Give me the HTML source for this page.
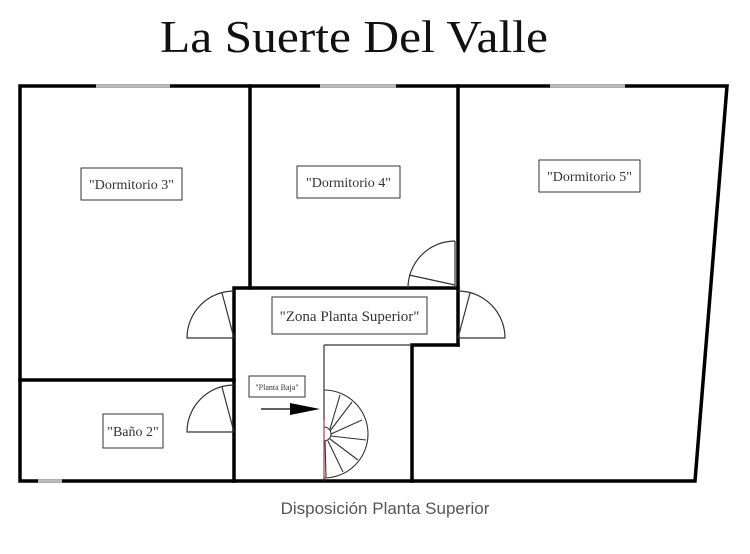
<!DOCTYPE html>
<html><head><meta charset="utf-8"><style>
html,body{margin:0;padding:0;background:#fff;width:750px;height:554px;overflow:hidden}
</style></head><body>
<svg width="750" height="554" xmlns="http://www.w3.org/2000/svg" font-family="Liberation Serif, serif">
<rect width="750" height="554" fill="#fff"/>
<text x="160" y="52" font-size="46" textLength="388" lengthAdjust="spacingAndGlyphs" fill="#111">La Suerte Del Valle</text>
<!-- outer walls -->
<g stroke="#000" stroke-width="3.5" fill="none" stroke-linecap="square">
<polyline points="20,86 727,86 695,481 20,481 20,86"/>
<line x1="250" y1="86" x2="250" y2="288"/>
<line x1="458" y1="86" x2="458" y2="345"/>
<polyline points="234,481 234,288 458,288"/>
<polyline points="458,345 412,345 412,481"/>
<line x1="20" y1="380" x2="234" y2="380"/>
</g>
<!-- windows -->
<g stroke="#bbb" stroke-width="3.5">
<line x1="96" y1="86" x2="170" y2="86"/>
<line x1="320" y1="86" x2="396" y2="86"/>
<line x1="550" y1="86" x2="625" y2="86"/>
<line x1="38" y1="481" x2="62" y2="481"/>
</g>
<!-- stair box -->
<g stroke="#333" stroke-width="1.2" fill="none">
<line x1="324" y1="345" x2="324" y2="481"/>
<line x1="324" y1="345" x2="412" y2="345"/>
</g>
<!-- doors -->
<g stroke="#333" stroke-width="1.2" fill="none">
<path d="M234,291 A47,47 0 0 0 187,338 L234,338"/><line x1="234" y1="338" x2="222" y2="293"/>
<path d="M234,385 A47,47 0 0 0 187,432 L234,432"/><line x1="234" y1="432" x2="222" y2="387"/>
<path d="M455,241 A47,47 0 0 0 408,288"/><line x1="455" y1="241" x2="455" y2="288"/><line x1="455" y1="285" x2="409" y2="275"/>
<path d="M458,291 A47,47 0 0 1 505,338 L458,338"/><line x1="458" y1="338" x2="470" y2="293"/>
</g>
<!-- spiral stair -->
<g stroke="#333" stroke-width="1.1" fill="none">
<path d="M324,390 A44,44 0 0 1 324,478"/>
<path d="M324,427 A7,7 0 0 1 324,441"/>
<line x1="330" y1="429" x2="340" y2="395"/>
<line x1="330" y1="431" x2="352" y2="402"/>
<line x1="331" y1="434" x2="362" y2="420"/>
<line x1="331" y1="436" x2="366" y2="440"/>
<line x1="330" y1="439" x2="358" y2="460"/>
<line x1="328" y1="441" x2="343" y2="472"/>
<line x1="325" y1="441" x2="326" y2="478"/>
</g>
<line x1="324" y1="420" x2="324" y2="478" stroke="#c44" stroke-width="1"/>
<!-- arrow -->
<line x1="261" y1="409" x2="295" y2="409" stroke="#000" stroke-width="1.2"/>
<polygon points="290,403 320,409 290,415" fill="#000"/>
<!-- labels -->
<g stroke="#333" stroke-width="1" fill="#fff">
<rect x="81" y="168" width="101" height="32"/>
<rect x="297" y="166" width="103" height="32"/>
<rect x="539" y="160" width="101" height="32"/>
<rect x="272" y="297" width="155" height="37"/>
<rect x="249" y="376" width="56" height="21"/>
<rect x="103" y="414" width="60" height="34"/>
</g>
<g fill="#333" text-anchor="middle">
<text x="131.5" y="189" font-size="14">"Dormitorio 3"</text>
<text x="348.5" y="187" font-size="14">"Dormitorio 4"</text>
<text x="589.5" y="181" font-size="14">"Dormitorio 5"</text>
<text x="349.5" y="321" font-size="15">"Zona Planta Superior"</text>
<text x="277" y="390" font-size="8">"Planta Baja"</text>
<text x="133" y="436" font-size="14">"Baño 2"</text>
<text x="385" y="514" font-size="17" fill="#555" font-family="Liberation Sans, sans-serif">Disposición Planta Superior</text>
</g>
</svg>
</body></html>
